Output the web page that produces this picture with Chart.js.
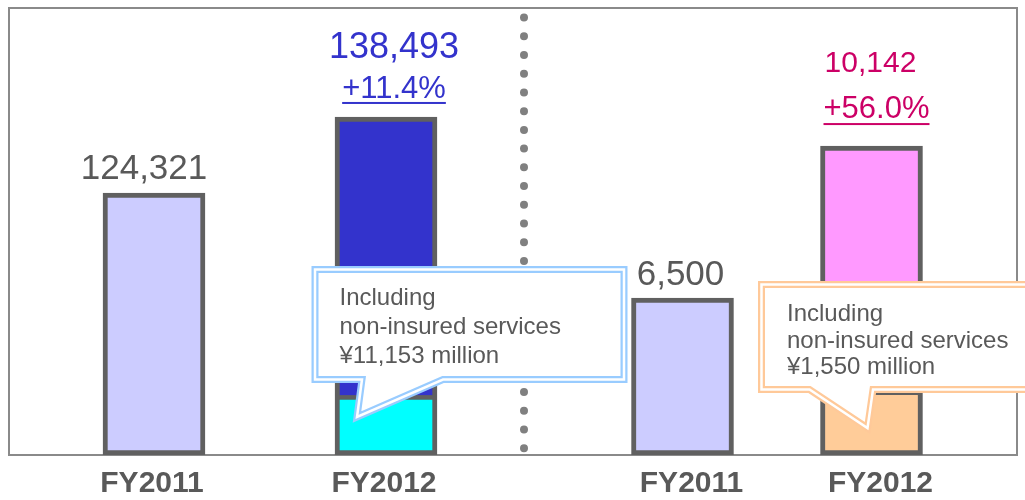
<!DOCTYPE html>
<html>
<head>
<meta charset="utf-8">
<script src="https://cdn.jsdelivr.net/npm/chart.js@4.4.1/dist/chart.umd.min.js"></script>
<style>
  html, body { margin: 0; padding: 0; background: #fff; overflow: hidden; width: 1025px; height: 500px; }
  canvas { position: absolute; left: 0; top: 0; }
</style>
</head>
<body>
<canvas id="left-chart" width="1025" height="513"></canvas>
<canvas id="right-chart" width="1025" height="513"></canvas>
<script>
const YEARS = ['FY2011', 'FY2012'];

// left panel
const LEFT_TOTALS = [124321, 138493];
const LEFT_NON_INSURED = [null, 11153];
const LEFT_VALUE_LABELS = ['124,321', '138,493'];
const LEFT_CHANGE_LABELS = [null, '+11.4%'];
const LEFT_NOTE = ['Including', 'non-insured services', '¥11,153 million'];
const LEFT_AXIS = [75500, 158800];

// right panel
const RIGHT_TOTALS = [6500, 10142];
const RIGHT_NON_INSURED = [null, 1550];
const RIGHT_VALUE_LABELS = ['6,500', '10,142'];
const RIGHT_CHANGE_LABELS = [null, '+56.0%'];
const RIGHT_NOTE = ['Including', 'non-insured services', '¥1,550 million'];
const RIGHT_AXIS = [2740, 13450];

const BORDER = '#606060';
const TEXT_GRAY = '#595959';
const FONT = '"Liberation Sans", Arial, sans-serif';

Chart.defaults.font.family = FONT;

function makeDatasets(totals, nonInsured, base, mainColors, subColor) {
  return [
    {
      data: totals.map((v, i) => [base + (nonInsured[i] || 0), v]),
      backgroundColor: mainColors,
      borderWidth: (c) => nonInsured[c.dataIndex] ? { top: 5, left: 5, right: 5, bottom: 0 } : 5,
    },
    {
      data: nonInsured.map(v => v == null ? null : [base, base + v]),
      backgroundColor: subColor,
      borderWidth: 5,
    },
  ].map(ds => Object.assign(ds, {
    borderColor: BORDER,
    borderSkipped: false,
    barThickness: 102,
    grouped: false,
  }));
}

function drawText(ctx, text, x, y, size, color, underline) {
  ctx.font = size + 'px ' + FONT;
  ctx.fillStyle = color;
  ctx.textAlign = 'center';
  ctx.textBaseline = 'alphabetic';
  ctx.fillText(text, x, y);
  if (underline) {
    const w = ctx.measureText(text).width;
    ctx.fillRect(x - w / 2, y + underline, w, 2);
  }
}

function drawCallout(ctx, c) {
  ctx.save();
  ctx.beginPath();
  ctx.moveTo(c.l, c.t);
  ctx.lineTo(c.r, c.t);
  ctx.lineTo(c.r, c.b);
  ctx.lineTo(c.baseR, c.b);
  ctx.lineTo(c.tipX, c.tipY);
  ctx.lineTo(c.baseL, c.b);
  ctx.lineTo(c.l, c.b);
  ctx.closePath();
  ctx.fillStyle = '#fff';
  ctx.fill();
  ctx.lineJoin = 'miter';
  ctx.strokeStyle = c.color;
  ctx.lineWidth = 7;
  ctx.stroke();
  ctx.strokeStyle = '#fff';
  ctx.lineWidth = 2.5;
  ctx.stroke();
  ctx.font = '24px ' + FONT;
  ctx.fillStyle = TEXT_GRAY;
  ctx.textAlign = 'left';
  ctx.textBaseline = 'alphabetic';
  c.lines.forEach((line, i) => ctx.fillText(line, c.textX, c.textY + i * c.gap));
  ctx.restore();
}

// frame and dotted divider, under the bars
const framePlugin = {
  id: 'frame',
  beforeDatasetsDraw(chart) {
    const ctx = chart.ctx;
    const area = chart.chartArea;
    ctx.save();
    ctx.strokeStyle = '#8a8a8a';
    ctx.lineWidth = 2;
    ctx.strokeRect(9, area.top, 1008, area.bottom - area.top);
    ctx.strokeStyle = '#808080';
    ctx.lineWidth = 8;
    ctx.lineCap = 'round';
    ctx.setLineDash([0, 18.73]);
    ctx.beginPath();
    ctx.moveTo(524, 17.5);
    ctx.lineTo(524, 450);
    ctx.stroke();
    ctx.restore();
  }
};

function labelPlugin(opts) {
  return {
    id: 'barLabels',
    afterDatasetsDraw(chart) {
      const ctx = chart.ctx;
      const bars = chart.getDatasetMeta(0).data;
      const B = chart.chartArea.bottom;
      ctx.save();
      bars.forEach((bar, i) => {
        const v = opts.value[i];
        drawText(ctx, opts.valueLabels[i], bar.x + v.dx, bar.y - v.dy, v.size, v.color);
        const p = opts.change[i];
        if (p && opts.changeLabels[i]) {
          drawText(ctx, opts.changeLabels[i], bar.x + p.dx, bar.y - p.dy, p.size, p.color, p.ul);
        }
      });
      const cx = bars[1].x;
      const n = opts.note;
      drawCallout(ctx, {
        l: cx + n.l, r: cx + n.r, t: B - n.t, b: B - n.b,
        baseL: cx + n.baseL, baseR: cx + n.baseR, tipX: cx + n.tipX, tipY: B - n.tipY,
        color: n.color, lines: opts.noteLines,
        textX: cx + n.textX, textY: B - n.textY, gap: n.gap,
      });
      ctx.restore();
    }
  };
}

function makeChart(id, datasets, axis, padding, labelOffset, plugins) {
  return new Chart(document.getElementById(id), {
    type: 'bar',
    data: { labels: YEARS, datasets: datasets },
    options: {
      responsive: false,
      animation: false,
      layout: { padding: padding },
      plugins: { legend: { display: false }, tooltip: { enabled: false } },
      scales: {
        x: {
          grid: { display: false, drawTicks: false },
          border: { display: false },
          ticks: {
            color: TEXT_GRAY, padding: 11, labelOffset: labelOffset,
            font: { size: 30, weight: 'bold', lineHeight: 1.2 },
          },
        },
        y: { display: false, min: axis[0], max: axis[1] },
      },
    },
    plugins: plugins,
  });
}

makeChart('left-chart',
  makeDatasets(LEFT_TOTALS, LEFT_NON_INSURED, LEFT_AXIS[0], ['#CCCCFF', '#3333CC'], '#00FFFF'),
  LEFT_AXIS,
  { left: 38, right: 523, top: 8, bottom: 0 },
  -2,
  [framePlugin, labelPlugin({
    valueLabels: LEFT_VALUE_LABELS,
    changeLabels: LEFT_CHANGE_LABELS,
    noteLines: LEFT_NOTE,
    value: [
      { dx: -10, dy: 14, size: 35, color: TEXT_GRAY },
      { dx: 8, dy: 59, size: 36, color: '#3333CC' },
    ],
    change: [null, { dx: 8, dy: 19, size: 31, color: '#3333CC', ul: 4 }],
    note: {
      l: -71, r: 238, t: 185.5, b: 75.5,
      baseL: -24, baseR: 57, tipX: -29, tipY: 38,
      color: '#99CCFF', textX: -46.5, textY: 150, gap: 29,
    },
  })]);

makeChart('right-chart',
  makeDatasets(RIGHT_TOTALS, RIGHT_NON_INSURED, RIGHT_AXIS[0], ['#CCCCFF', '#FF99FF'], '#FFCC99'),
  RIGHT_AXIS,
  { left: 588, right: 59, top: 8, bottom: 0 },
  9,
  [labelPlugin({
    valueLabels: RIGHT_VALUE_LABELS,
    changeLabels: RIGHT_CHANGE_LABELS,
    noteLines: RIGHT_NOTE,
    value: [
      { dx: -2, dy: 13, size: 35, color: TEXT_GRAY },
      { dx: -1, dy: 74, size: 30, color: '#CC0066' },
    ],
    change: [null, { dx: 5, dy: 28, size: 31, color: '#CC0066', ul: 5 }],
    note: {
      l: -110, r: 175, t: 170.5, b: 65.5,
      baseL: -62, baseR: 1.5, tipX: -4, tipY: 27,
      color: '#FFC999', textX: -84.5, textY: 134, gap: 26.7,
    },
  })]);
</script>
</body>
</html>
